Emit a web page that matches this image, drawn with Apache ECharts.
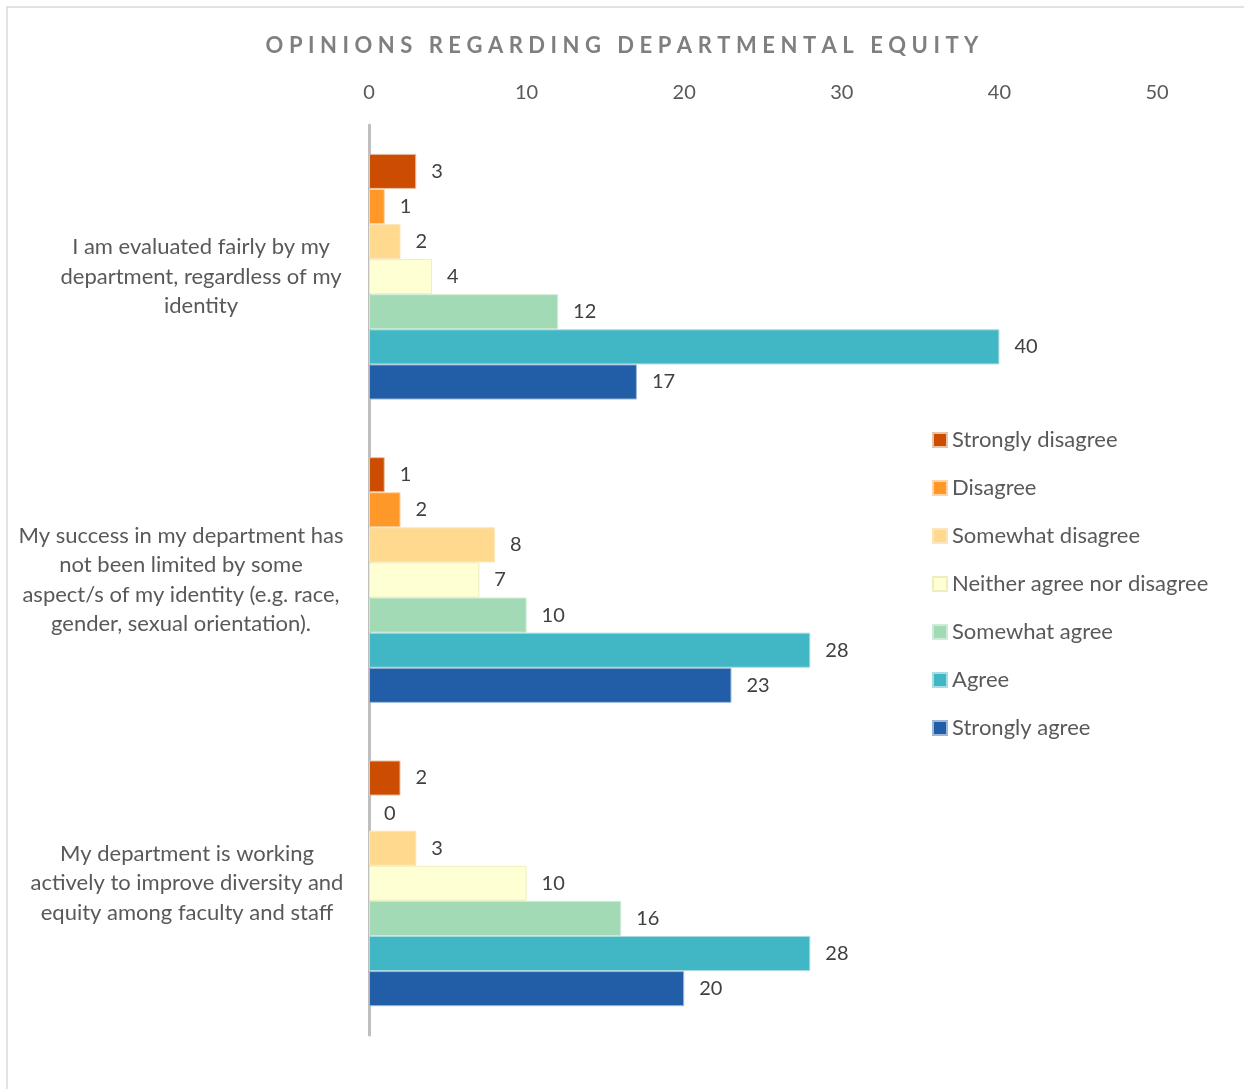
<!DOCTYPE html>
<html>
<head>
<meta charset="utf-8">
<script src="https://cdn.jsdelivr.net/npm/echarts@6/dist/echarts.min.js"></script>
<style>
	html, body { margin: 0; padding: 0; background: #fff; }
	#chart { width: 1244px; height: 1089px; }
</style>
</head>
<body>
<div id="chart"></div>
<script>
// 数据
var titleText = 'OPINIONS REGARDING DEPARTMENTAL EQUITY';
var categories = [
	'I am evaluated fairly by my\ndepartment, regardless of my\nidentity',
	'My success in my department has\nnot been limited by some\naspect/s of my identity (e.g. race,\ngender, sexual orientation).',
	'My department is working\nactively to improve diversity and\nequity among faculty and staff'
];
var seriesNames = ['Strongly disagree', 'Disagree', 'Somewhat disagree', 'Neither agree nor disagree', 'Somewhat agree', 'Agree', 'Strongly agree'];
var stronglyDisagree = [3, 1, 2];
var disagree = [1, 2, 0];
var somewhatDisagree = [2, 8, 3];
var neither = [4, 7, 10];
var somewhatAgree = [12, 10, 16];
var agree = [40, 28, 28];
var stronglyAgree = [17, 23, 20];

var seriesData = [stronglyDisagree, disagree, somewhatDisagree, neither, somewhatAgree, agree, stronglyAgree];
var colors = ['#CC4C02', '#FE9929', '#FED98E', '#FFFFD4', '#A1DAB4', '#41B6C4', '#225EA8'];
var borders = ['#E8C4A8', '#FFD2A6', '#FBE6BE', '#EEEEBC', '#CDEBD6', '#A8DCE3', '#9DB7D6'];

var font = 'Lato';

var chart = echarts.init(document.getElementById('chart'));

var series = [];
for (var i = 0; i < seriesData.length; i++) {
	// 0值不画边框
	var items = seriesData[i].map(function (v) {
		return v === 0 ? { value: v, itemStyle: { borderWidth: 0 } } : v;
	});
	series.push({
		name: seriesNames[i],
		type: 'bar',
		data: items,
		barGap: '0%',
		barCategoryGap: '19%',
		itemStyle: {
			color: colors[i],
			borderColor: borders[i],
			borderWidth: 1
		},
		label: {
			show: true,
			position: 'right',
			distance: 15,
			fontSize: 20,
			fontFamily: font,
			color: '#404040',
			padding: [2, 0, 0, 0]
		}
	});
}

var labelStyle = { fontSize: 22, fontFamily: font, color: '#595959', lineHeight: 29.5 };

var option = {
	backgroundColor: '#fff',
	title: {
		// 字间距用细空格模拟
		text: titleText.split('').join('\u2009\u200A\u200A'),
		left: 'center',
		top: 30,
		textStyle: {
			fontFamily: font,
			fontSize: 22,
			fontWeight: 'bold',
			color: '#7F7F7F'
		}
	},
	legend: {
		orient: 'vertical',
		left: 927,
		top: 424,
		itemWidth: 14,
		itemHeight: 14,
		itemGap: 26,
		itemTextGap: 6,
		icon: 'rect',
		textStyle: {
			fontFamily: font,
			fontSize: 22,
			color: '#595959'
		},
		data: seriesNames
	},
	grid: {
		left: 369,
		right: 87,
		top: 125,
		bottom: 54,
		containLabel: false
	},
	xAxis: {
		type: 'value',
		position: 'top',
		min: 0,
		max: 50,
		interval: 10,
		splitLine: { show: false },
		axisLine: { show: false },
		axisTick: { show: false },
		axisLabel: {
			margin: 22,
			fontSize: 20,
			fontFamily: font,
			color: '#595959'
		}
	},
	yAxis: {
		type: 'category',
		inverse: true,
		data: categories,
		axisTick: { show: false },
		axisLine: { lineStyle: { color: '#BFBFBF', width: 3 } },
		axisLabel: {
			margin: 168,
			align: 'center',
			fontSize: 22,
			fontFamily: font,
			color: '#595959',
			lineHeight: 29.5,
			formatter: function (value, index) {
				return '{c' + index + '|' + value + '}';
			},
			rich: {
				c0: Object.assign({ padding: [0, 0, 0, 0] }, labelStyle),
				c1: Object.assign({ padding: [0, 40, 0, 0] }, labelStyle),
				c2: Object.assign({ padding: [0, 28, 0, 0] }, labelStyle)
			}
		}
	},
	graphic: [{
		type: 'rect',
		shape: { x: 7, y: 7, width: 1300, height: 1200 },
		style: { fill: 'none', stroke: '#D9D9D9', lineWidth: 1.5 },
		silent: true
	}],
	series: series
};

chart.setOption(option);
</script>
</body>
</html>
